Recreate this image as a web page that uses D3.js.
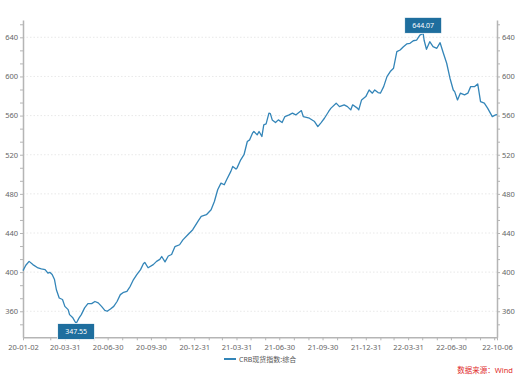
<!DOCTYPE html>
<html>
<head>
<meta charset="utf-8">
<script src="https://cdn.jsdelivr.net/npm/d3@7"></script>
<style>
body { margin: 0; background: #fff; }
text { font-family: "Noto Sans", "Noto Sans CJK SC", sans-serif; }
</style>
</head>
<body>
<svg id="chart" width="527" height="377"></svg>
<script>
// CRB spot index
const dates = ["2020-01-02","2020-01-08","2020-01-15","2020-01-23","2020-02-03","2020-02-10","2020-02-18","2020-02-24","2020-02-28","2020-03-04",
  "2020-03-09","2020-03-13","2020-03-19","2020-03-26","2020-03-31","2020-04-07","2020-04-10","2020-04-17","2020-04-24","2020-04-30",
  "2020-05-05","2020-05-12","2020-05-19","2020-05-27","2020-06-03","2020-06-10","2020-06-17","2020-06-24","2020-06-29","2020-07-06",
  "2020-07-13","2020-07-20","2020-07-27","2020-08-03","2020-08-10","2020-08-17","2020-08-24","2020-08-31","2020-09-08","2020-09-14",
  "2020-09-17","2020-09-24","2020-10-05","2020-10-12","2020-10-19","2020-10-23","2020-10-30","2020-11-06","2020-11-13","2020-11-20",
  "2020-11-30","2020-12-07","2020-12-17","2020-12-28","2021-01-08","2021-01-15","2021-01-26","2021-02-05","2021-02-12","2021-02-19",
  "2021-02-26","2021-03-05","2021-03-10","2021-03-19","2021-03-23","2021-03-30","2021-04-01","2021-04-09","2021-04-16","2021-04-23",
  "2021-04-28","2021-05-04","2021-05-07","2021-05-14","2021-05-18","2021-05-24","2021-05-28","2021-06-02","2021-06-08","2021-06-11",
  "2021-06-15","2021-06-22","2021-06-28","2021-07-06","2021-07-12","2021-07-21","2021-07-28","2021-08-04","2021-08-16","2021-08-20",
  "2021-09-02","2021-09-13","2021-09-20","2021-09-27","2021-10-04","2021-10-13","2021-10-18","2021-10-29","2021-11-05","2021-11-15",
  "2021-11-22","2021-11-29","2021-12-03","2021-12-13","2021-12-16","2021-12-22","2021-12-31","2022-01-07","2022-01-14","2022-01-19",
  "2022-01-26","2022-01-31","2022-02-07","2022-02-14","2022-02-21","2022-02-28","2022-03-07","2022-03-14","2022-03-21","2022-03-28",
  "2022-04-04","2022-04-11","2022-04-18","2022-04-25","2022-05-02","2022-05-04","2022-05-09","2022-05-16","2022-05-23","2022-05-31",
  "2022-06-07","2022-06-14","2022-06-21","2022-06-28","2022-07-05","2022-07-08","2022-07-14","2022-07-20","2022-07-29","2022-08-05",
  "2022-08-11","2022-08-19","2022-08-26","2022-09-01","2022-09-09","2022-09-16","2022-09-26","2022-10-03","2022-10-06"];
const values = [401.5,407,411,407.7,404.3,403.3,402.6,399,399.8,397.5,
  392.4,382,373.6,372,365,361.7,356.6,353.3,347.55,353,
  356.6,363.5,367.8,367.8,370,368.6,365,361,360,362.4,
  365,370,377,379.4,380.4,385.5,392.4,397.5,402.6,408.5,
  410,404.5,407.7,411,413,416,410.5,416.5,418,426,
  428,433,438,443.4,451.8,457,458.7,463.8,472.2,484.2,
  491,489.3,494.4,503,508,505.3,506.3,514.8,520,533.5,
  535.2,542,543.7,540.3,543.7,538.6,550.5,551.5,562.5,562,
  555.6,552.9,555.6,552.9,559,560.7,562.5,560.7,565.1,559,
  557.3,553.9,548.8,552.9,557.3,564.2,567.6,572.7,569.2,571,
  569.2,565.8,571,567.6,565.8,576,579.4,586.2,582.9,586.2,
  583.5,582.9,589.6,599.8,605,608.4,625.3,627,630.4,633.2,
  633.9,636.5,637.2,642.3,644.07,637,627.8,635.5,630.4,628.8,
  634.5,623.7,613.5,598.2,586.2,584.5,576,582.9,581.1,582.9,
  589.6,589.6,592.4,574.3,572.7,567.6,559,560.7,561];

const xLabels = ["2020-01-02","2020-03-31","2020-06-30","2020-09-30","2020-12-31","2021-03-31",
  "2021-06-30","2021-09-30","2021-12-31","2022-03-31","2022-06-30","2022-10-06"];
const yLabels = [360,400,440,480,520,560,600,640];
const seriesName = "CRB现货指数:综合";
const sourceText = "数据来源：Wind";

const parse = d3.timeParse("%Y-%m-%d");
const fmt = d3.timeFormat("%y-%m-%d");
const data = dates.map((d, i) => ({date: parse(d), value: values[i]}));

const svg = d3.select("#chart");
const padL = 23, padR = 497, padT = 20, padB = 337.3;

const x = d3.scaleTime()
  .domain([parse(dates[0]), parse(dates[dates.length - 1])])
  .range([padL, padR]);
const y = d3.scaleLinear().domain([333.4, 657.7]).range([padB, padT]);

// grid
svg.append("g").selectAll("line")
  .data(yLabels)
  .enter().append("line")
  .attr("x1", padL).attr("x2", padR)
  .attr("y1", d => y(d)).attr("y2", d => y(d))
  .style("stroke", "#e3e3e3")
  .style("stroke-dasharray", "1.5,2")
  .style("stroke-width", 0.8);

// y ticks every 40/3, labels every 40
let yTicks = d3.range(-1, 23).map(i => 360 + i * 40 / 3).filter(v => v > 333.4 && v < 657.7);
function yFmt(v) {
  let r = Math.round(v);
  return Math.abs(v - r) < 0.01 && r % 40 == 0 ? r : "";
}

function styleAxis(g) {
  g.select(".domain").style("stroke", "#b5b5b5").style("stroke-width", 1.5);
  g.selectAll(".tick line").style("stroke", "#b5b5b5");
  g.selectAll(".tick text").style("fill", "#666").style("font-size", "7.5px");
}

svg.append("g")
  .attr("transform", "translate(" + padL + ",0)")
  .call(d3.axisLeft(y).tickValues(yTicks).tickFormat(yFmt).tickSize(3).tickSizeOuter(0).tickPadding(2))
  .call(styleAxis);

svg.append("g")
  .attr("transform", "translate(" + padR + ",0)")
  .call(d3.axisRight(y).tickValues(yTicks).tickFormat(yFmt).tickSize(3).tickSizeOuter(0).tickPadding(2))
  .call(styleAxis);

// x ticks at month ends, labels at the quarter dates
const labelSet = new Set(xLabels);
let monthEnds = d3.timeMonth.range(d3.timeMonth.offset(x.domain()[0], 1), x.domain()[1])
  .map(d => d3.timeDay.offset(d, -1));
let xTicks = [x.domain()[0]].concat(monthEnds, [x.domain()[1]]);
svg.append("g")
  .attr("transform", "translate(0," + padB + ")")
  .call(d3.axisBottom(x).tickValues(xTicks)
    .tickFormat(d => labelSet.has(d3.timeFormat("%Y-%m-%d")(d)) ? fmt(d) : "")
    .tickSize(3).tickSizeOuter(0).tickPadding(4))
  .call(styleAxis);

// the line
const line = d3.line().x(d => x(d.date)).y(d => y(d.value));
svg.append("path")
  .datum(data)
  .attr("d", line)
  .style("fill", "none")
  .style("stroke", "#3385b8")
  .style("stroke-width", 1.3)
  .style("stroke-linejoin", "round");

// max / min markers
const maxP = data[d3.maxIndex(data, d => d.value)];
const minP = data[d3.minIndex(data, d => d.value)];
function marker(p, above) {
  let bw = 37, bh = 16;
  let cx = x(p.date), cy = y(p.value);
  let by = above ? cy - bh : cy;
  let g = svg.append("g");
  g.append("rect")
    .attr("x", cx - bw / 2).attr("y", by)
    .attr("width", bw).attr("height", bh)
    .style("fill", "#1e6e9e")
    .style("stroke", "#fff").style("stroke-width", 0.8);
  g.append("text")
    .attr("x", cx).attr("y", by + bh / 2 + 2.5)
    .attr("text-anchor", "middle")
    .style("fill", "#fff").style("font-size", "7px")
    .text(p.value.toFixed(2));
}
marker(maxP, true);
marker(minP, false);

// legend
svg.append("line")
  .attr("x1", 224).attr("x2", 236).attr("y1", 359).attr("y2", 359)
  .style("stroke", "#3385b8").style("stroke-width", 2);
svg.append("text")
  .attr("x", 239).attr("y", 361.5)
  .style("fill", "#555").style("font-size", "7px")
  .text(seriesName);

// source
svg.append("text")
  .attr("x", 513).attr("y", 373)
  .attr("text-anchor", "end")
  .style("fill", "#e02a2a").style("font-size", "7.5px")
  .text(sourceText);
</script>
</body>
</html>
